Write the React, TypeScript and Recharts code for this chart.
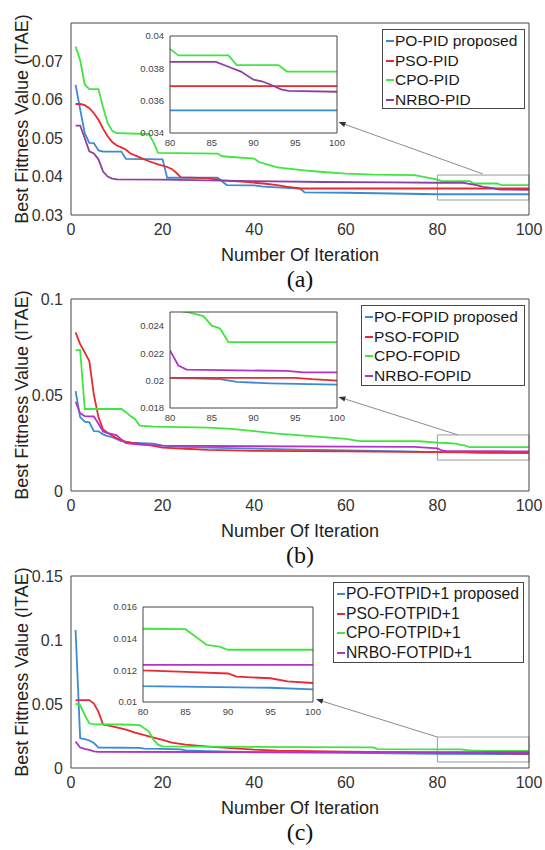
import React from 'react';
import { LineChart, Line, XAxis, YAxis, ReferenceArea, ReferenceLine, Legend, CartesianGrid, Label } from 'recharts';

type Pt = [number, number];

// ---------- shared ticks / labels ----------
const X_TICKS = [0, 20, 40, 60, 80, 100];
const INSET_X_TICKS = [80, 85, 90, 95, 100];
const X_LABEL = 'Number Of Iteration';
const Y_LABEL = 'Best Fittness Value (ITAE)';

// ---------- panel (a) ----------
const A_NAMES = ['PO-PID proposed', 'PSO-PID', 'CPO-PID', 'NRBO-PID'];
const A_Y_TICKS = [0.03, 0.04, 0.05, 0.06, 0.07];
const A_INSET_Y_TICKS = [0.034, 0.036, 0.038, 0.04];
const A_PO: Pt[] = [[1,0.0639],[2,0.0575],[3,0.0513],[4,0.0488],[5,0.0487],[6,0.0468],[7,0.0465],[11,0.0465],[12,0.0446],[20,0.0445],[21,0.0397],[32,0.0397],[34,0.0378],[40,0.0377],[42,0.0374],[45,0.0372],[50,0.0369],[51,0.0359],[60,0.0358],[70,0.0356],[80,0.0354],[100,0.0354]];
const A_PSO: Pt[] = [[1,0.0589],[2,0.0589],[3,0.0586],[4,0.0578],[5,0.0565],[6,0.0548],[7,0.0525],[8,0.0505],[9,0.049],[10,0.0481],[11,0.0476],[12,0.047],[13,0.046],[15,0.045],[17,0.044],[19,0.0432],[21,0.0425],[22,0.042],[23,0.041],[24,0.0398],[30,0.0396],[33,0.039],[38,0.0386],[42,0.0382],[45,0.0378],[47,0.0374],[50,0.0369],[100,0.0369]];
const A_CPO: Pt[] = [[1,0.0739],[2,0.0703],[3,0.064],[4,0.0628],[6,0.0628],[7,0.058],[8,0.054],[9,0.0519],[10,0.0513],[17,0.0511],[18,0.049],[19,0.0462],[32,0.046],[33,0.0453],[40,0.0447],[41,0.0438],[43,0.0431],[45,0.0424],[48,0.042],[51,0.0416],[55,0.0412],[60,0.0408],[66,0.0405],[75,0.0404],[77,0.0399],[80,0.0392],[81,0.0388],[87,0.0388],[88,0.0382],[93,0.0382],[94,0.0378],[100,0.0378]];
const A_NRBO: Pt[] = [[1,0.0533],[2,0.0533],[3,0.05],[4,0.0466],[5,0.046],[6,0.0445],[7,0.0413],[8,0.04],[9,0.0395],[10,0.0393],[20,0.0392],[30,0.039],[40,0.0388],[55,0.0386],[70,0.0385],[80,0.0384],[85.5,0.0384],[87,0.0381],[88.5,0.0378],[90,0.0373],[91,0.0372],[92,0.037],[93.3,0.0367],[94.2,0.0366],[100,0.03655]];

// ---------- panel (b) ----------
const B_NAMES = ['PO-FOPID proposed', 'PSO-FOPID', 'CPO-FOPID', 'NRBO-FOPID'];
const B_Y_TICKS = [0, 0.05, 0.1];
const B_INSET_Y_TICKS = [0.018, 0.02, 0.022, 0.024];
const B_PO: Pt[] = [[1,0.052],[2,0.0385],[3,0.0361],[4,0.0358],[5,0.0312],[6,0.0311],[7,0.0295],[8,0.0286],[9,0.028],[10,0.027],[11,0.026],[13,0.0252],[18,0.0246],[20,0.0236],[25,0.023],[30,0.0226],[40,0.0221],[50,0.0216],[60,0.0211],[73,0.0206],[80,0.0202],[86,0.0201],[88,0.0199],[92,0.0198],[100,0.0197]];
const B_PSO: Pt[] = [[1,0.0826],[2,0.0765],[3,0.0722],[4,0.0677],[5,0.05],[6,0.0385],[7,0.032],[8,0.0303],[9,0.0288],[10,0.0274],[12,0.0256],[15,0.0246],[18,0.0235],[20,0.0226],[25,0.022],[30,0.0214],[40,0.0209],[60,0.0206],[80,0.0202],[95,0.0202],[97,0.0201],[100,0.02]];
const B_CPO: Pt[] = [[1,0.0734],[2,0.0734],[3,0.0427],[11,0.0427],[12,0.041],[13,0.039],[14,0.0374],[15,0.034],[18,0.0335],[30,0.033],[35,0.0324],[40,0.0312],[45,0.0299],[53,0.0285],[60,0.0271],[63,0.026],[76,0.0259],[80,0.0252],[82,0.025],[84,0.0247],[85,0.024],[86,0.0238],[87,0.0228],[100,0.0228]];
const B_NRBO: Pt[] = [[1,0.0465],[2,0.0405],[3,0.039],[5,0.0388],[6,0.035],[7,0.031],[8,0.0302],[9,0.0296],[10,0.029],[11,0.0268],[12,0.0249],[15,0.0242],[20,0.0236],[40,0.0233],[60,0.0231],[75,0.023],[80,0.0222],[81,0.0211],[82,0.0208],[94,0.0207],[96,0.0206],[100,0.0206]];

// ---------- panel (c) ----------
const C_NAMES = ['PO-FOTPID+1 proposed', 'PSO-FOTPID+1', 'CPO-FOTPID+1', 'NRBO-FOTPID+1'];
const C_Y_TICKS = [0, 0.05, 0.1, 0.15];
const C_INSET_Y_TICKS = [0.01, 0.012, 0.014, 0.016];
const C_PO: Pt[] = [[1,0.1078],[2,0.0232],[3,0.0225],[4,0.0215],[5,0.0195],[6,0.016],[15,0.0158],[16,0.0152],[20,0.015],[24,0.0145],[25,0.0138],[30,0.0132],[40,0.0123],[60,0.0118],[80,0.011],[95,0.0109],[100,0.0108]];
const C_PSO: Pt[] = [[1,0.0531],[4,0.0531],[5,0.0503],[6,0.0438],[7,0.034],[8,0.0333],[10,0.0318],[12,0.03],[14,0.0276],[17,0.0248],[20,0.022],[22,0.0198],[25,0.0182],[30,0.0167],[35,0.0155],[40,0.0143],[45,0.0135],[60,0.0128],[80,0.012],[85,0.0119],[90,0.0118],[91,0.0116],[95,0.0115],[97,0.0113],[100,0.0112]];
const C_CPO: Pt[] = [[1,0.0503],[2,0.049],[3,0.0414],[4,0.0349],[5,0.0341],[11,0.034],[15,0.0335],[16,0.031],[17,0.0287],[18,0.0221],[19,0.0182],[20,0.0169],[40,0.0165],[50,0.0163],[66,0.0161],[67,0.0147],[85,0.0146],[86,0.0142],[87.5,0.0136],[89,0.0135],[90,0.0133],[100,0.0133]];
const C_NRBO: Pt[] = [[1,0.0206],[2,0.016],[3,0.015],[4,0.0142],[5,0.013],[6,0.0126],[30,0.0125],[60,0.0124],[80,0.01235],[100,0.01235]];

// ---------- styling ----------
const SANS = '"Liberation Sans", Arial, Helvetica, sans-serif';
const SERIF = '"Liberation Serif", "Times New Roman", serif';
const FRAME = '#474747';
const TICK = '#333';
const BLUE = '#3b8ad6';
const RED = '#e8292f';
const GREEN = '#3fe63f';

type Box = { left: number; right: number; top: number; bottom: number };
type PanelCfg = {
  caption: string;
  names: string[];
  series: Pt[][];
  colors: string[];
  yDomain: [number, number];
  yTicks: number[];
  insetDomain: [number, number];
  insetTicks: number[];
  plot: Box;
  inset: Box;
  legend: { left: number; top: number; width: number; height: number; fontSize: number };
  rectY: [number, number];
  arrow: [Pt, Pt];
};

const PANELS: PanelCfg[] = [
  {
    caption: '(a)', names: A_NAMES, series: [A_PO, A_PSO, A_CPO, A_NRBO],
    colors: [BLUE, RED, GREEN, '#8e3fa2'],
    yDomain: [0.03, 0.08], yTicks: A_Y_TICKS, insetDomain: [0.034, 0.04], insetTicks: A_INSET_Y_TICKS,
    plot: { left: 71, right: 529, top: 23, bottom: 215 },
    inset: { left: 170, right: 337, top: 36, bottom: 133 },
    legend: { left: 382, top: 29, width: 143, height: 80, fontSize: 15.5 },
    rectY: [0.0339, 0.0404], arrow: [[89.9, 0.0407], [58.4, 0.0542]],
  },
  {
    caption: '(b)', names: B_NAMES, series: [B_PO, B_PSO, B_CPO, B_NRBO],
    colors: [BLUE, RED, GREEN, '#b233c9'],
    yDomain: [0, 0.1], yTicks: B_Y_TICKS, insetDomain: [0.018, 0.025], insetTicks: B_INSET_Y_TICKS,
    plot: { left: 71, right: 529, top: 299, bottom: 491 },
    inset: { left: 170, right: 337, top: 312, bottom: 408 },
    legend: { left: 361, top: 305, width: 164, height: 81, fontSize: 15.5 },
    rectY: [0.0161, 0.0292], arrow: [[84.5, 0.0292], [58.4, 0.049]],
  },
  {
    caption: '(c)', names: C_NAMES, series: [C_PO, C_PSO, C_CPO, C_NRBO],
    colors: [BLUE, RED, GREEN, '#b233c9'],
    yDomain: [0, 0.15], yTicks: C_Y_TICKS, insetDomain: [0.01, 0.016], insetTicks: C_INSET_Y_TICKS,
    plot: { left: 71, right: 529, top: 576, bottom: 768 },
    inset: { left: 143, right: 313, top: 607, bottom: 702 },
    legend: { left: 333, top: 582, width: 191, height: 81, fontSize: 15.7 },
    rectY: [0.0047, 0.0242], arrow: [[80, 0.0242], [53.5, 0.0537]],
  },
];

const toRows = (pts: Pt[]) => pts.map(([x, y]) => ({ x, y }));

const arrowShape = (p: any) => {
  const { x1, y1, x2, y2 } = p;
  const ang = Math.atan2(y2 - y1, x2 - x1);
  const L = 7, H = 2.6;
  const bx = x2 - L * Math.cos(ang), by = y2 - L * Math.sin(ang);
  const px = -Math.sin(ang) * H, py = Math.cos(ang) * H;
  return (
    <g>
      <line x1={x1} y1={y1} x2={bx} y2={by} stroke="#8c8c8c" strokeWidth={1} />
      <polygon points={`${x2},${y2} ${bx + px},${by + py} ${bx - px},${by - py}`} fill="#333" />
    </g>
  );
};

const W = 545, H = 850;

function MainChart({ c }: { c: PanelCfg }) {
  const { plot, legend } = c;
  const mirrorProps = { tick: false as const, tickSize: 4, tickLine: { stroke: FRAME } };
  return (
    <div style={{ position: 'absolute', left: 0, top: 0 }}>
      <LineChart width={W} height={H} margin={{ top: plot.top, right: W - plot.right, left: 0, bottom: H - plot.bottom - 80 }}>
        <XAxis xAxisId="b" dataKey="x" type="number" domain={[0, 100]} ticks={X_TICKS} interval={0} allowDataOverflow height={80}
          tickLine={false} tickSize={0} tickMargin={9} axisLine={{ stroke: FRAME }}
          tick={{ fontSize: 16, fill: TICK, fontFamily: SANS }}>
          <Label content={() => (
            <g>
              <text x={(plot.left + plot.right) / 2} y={plot.bottom + 46} textAnchor="middle" fontSize={18} fontFamily={SANS} fill="#222">{X_LABEL}</text>
              <text x={(plot.left + plot.right) / 2} y={plot.bottom + 72} textAnchor="middle" fontSize={24} fontFamily={SERIF} fill="#111">{c.caption}</text>
            </g>
          )} />
        </XAxis>
        <XAxis xAxisId="bm" dataKey="x" type="number" domain={[0, 100]} ticks={X_TICKS} interval={0} mirror axisLine={false} {...mirrorProps} />
        <XAxis xAxisId="t" dataKey="x" orientation="top" type="number" domain={[0, 100]} ticks={X_TICKS} interval={0} mirror axisLine={{ stroke: FRAME }} {...mirrorProps} />
        <YAxis yAxisId="l" type="number" domain={c.yDomain} ticks={c.yTicks} interval={0} allowDataOverflow width={plot.left}
          tickLine={false} tickSize={0} tickMargin={8} axisLine={{ stroke: FRAME }}
          tick={{ fontSize: 16, fill: TICK, fontFamily: SANS }}>
          <Label content={() => (
            <text transform={`translate(21.7, ${(plot.top + plot.bottom) / 2}) rotate(-90)`} textAnchor="middle" dominantBaseline="central" fontSize={18} fontFamily={SANS} fill="#222">{Y_LABEL}</text>
          )} />
        </YAxis>
        <YAxis yAxisId="lm" type="number" domain={c.yDomain} ticks={c.yTicks} interval={0} mirror axisLine={false} {...mirrorProps} />
        <YAxis yAxisId="r" orientation="right" type="number" domain={c.yDomain} ticks={c.yTicks} interval={0} mirror axisLine={{ stroke: FRAME }} {...mirrorProps} />
        <ReferenceArea xAxisId="b" yAxisId="l" x1={80} x2={100} y1={c.rectY[0]} y2={c.rectY[1]} fill="none" stroke="#9a9a9a" strokeWidth={1} ifOverflow="visible" />
        {c.series.map((s, i) => (
          <Line key={c.names[i]} xAxisId="b" yAxisId="l" data={toRows(s)} dataKey="y" name={c.names[i]} type="linear"
            stroke={c.colors[i]} strokeWidth={1.8} dot={false} activeDot={false} isAnimationActive={false} />
        ))}
        <ReferenceLine xAxisId="b" yAxisId="l" segment={[{ x: c.arrow[0][0], y: c.arrow[0][1] }, { x: c.arrow[1][0], y: c.arrow[1][1] }]}
          ifOverflow="visible" shape={arrowShape} />
        <Legend layout="vertical" align="center" verticalAlign="middle"
          wrapperStyle={{ left: legend.left, top: legend.top, width: legend.width, height: legend.height }}
          content={() => (
            <div style={{ boxSizing: 'border-box', width: '100%', height: '100%', border: `1px solid ${FRAME}`, background: '#fff', paddingTop: 1, paddingLeft: 3, fontFamily: SANS, fontSize: legend.fontSize, color: '#1a1a1a' }}>
              {c.names.map((name, i) => (
                <div key={name} style={{ display: 'flex', alignItems: 'center', height: 19.7, whiteSpace: 'nowrap' }}>
                  <span style={{ display: 'inline-block', width: 8, height: 2, background: c.colors[i], marginRight: 1 }} />
                  <span>{name}</span>
                </div>
              ))}
            </div>
          )} />
      </LineChart>
    </div>
  );
}

function InsetChart({ c }: { c: PanelCfg }) {
  const { inset } = c;
  const mirrorProps = { tick: false as const, tickSize: 3, tickLine: { stroke: FRAME } };
  const tickStyle = { fontSize: 9.5, fill: '#444', fontFamily: SANS };
  return (
    <div style={{ position: 'absolute', left: 0, top: 0 }}>
      <LineChart width={W} height={H} margin={{ top: inset.top, right: W - inset.right, left: inset.left - 50, bottom: H - inset.bottom - 25 }}>
        <CartesianGrid xAxisId="b" yAxisId="l" horizontal={false} vertical={false} fill="#fff" fillOpacity={1} />
        <XAxis xAxisId="b" dataKey="x" type="number" domain={[80, 100]} ticks={INSET_X_TICKS} interval={0} allowDataOverflow height={25}
          tickLine={false} tickSize={0} tickMargin={6} axisLine={{ stroke: FRAME }} tick={tickStyle} />
        <XAxis xAxisId="bm" dataKey="x" type="number" domain={[80, 100]} ticks={INSET_X_TICKS} interval={0} mirror axisLine={false} {...mirrorProps} />
        <XAxis xAxisId="t" dataKey="x" orientation="top" type="number" domain={[80, 100]} ticks={INSET_X_TICKS} interval={0} mirror axisLine={{ stroke: FRAME }} {...mirrorProps} />
        <YAxis yAxisId="l" type="number" domain={c.insetDomain} ticks={c.insetTicks} interval={0} allowDataOverflow width={50}
          tickLine={false} tickSize={0} tickMargin={6} axisLine={{ stroke: FRAME }} tick={tickStyle} />
        <YAxis yAxisId="lm" type="number" domain={c.insetDomain} ticks={c.insetTicks} interval={0} mirror axisLine={false} {...mirrorProps} />
        <YAxis yAxisId="r" orientation="right" type="number" domain={c.insetDomain} ticks={c.insetTicks} interval={0} mirror axisLine={{ stroke: FRAME }} {...mirrorProps} />
        {c.series.map((s, i) => (
          <Line key={c.names[i]} xAxisId="b" yAxisId="l" data={toRows(s)} dataKey="y" name={c.names[i]} type="linear"
            stroke={c.colors[i]} strokeWidth={1.8} dot={false} activeDot={false} isAnimationActive={false} />
        ))}
      </LineChart>
    </div>
  );
}

export default function App() {
  return (
    <div style={{ position: 'absolute', left: 0, top: 0, width: W, height: H, background: '#fff', overflow: 'hidden' }}>
      {PANELS.map((c) => (
        <React.Fragment key={c.caption}>
          <MainChart c={c} />
          <InsetChart c={c} />
        </React.Fragment>
      ))}
    </div>
  );
}
